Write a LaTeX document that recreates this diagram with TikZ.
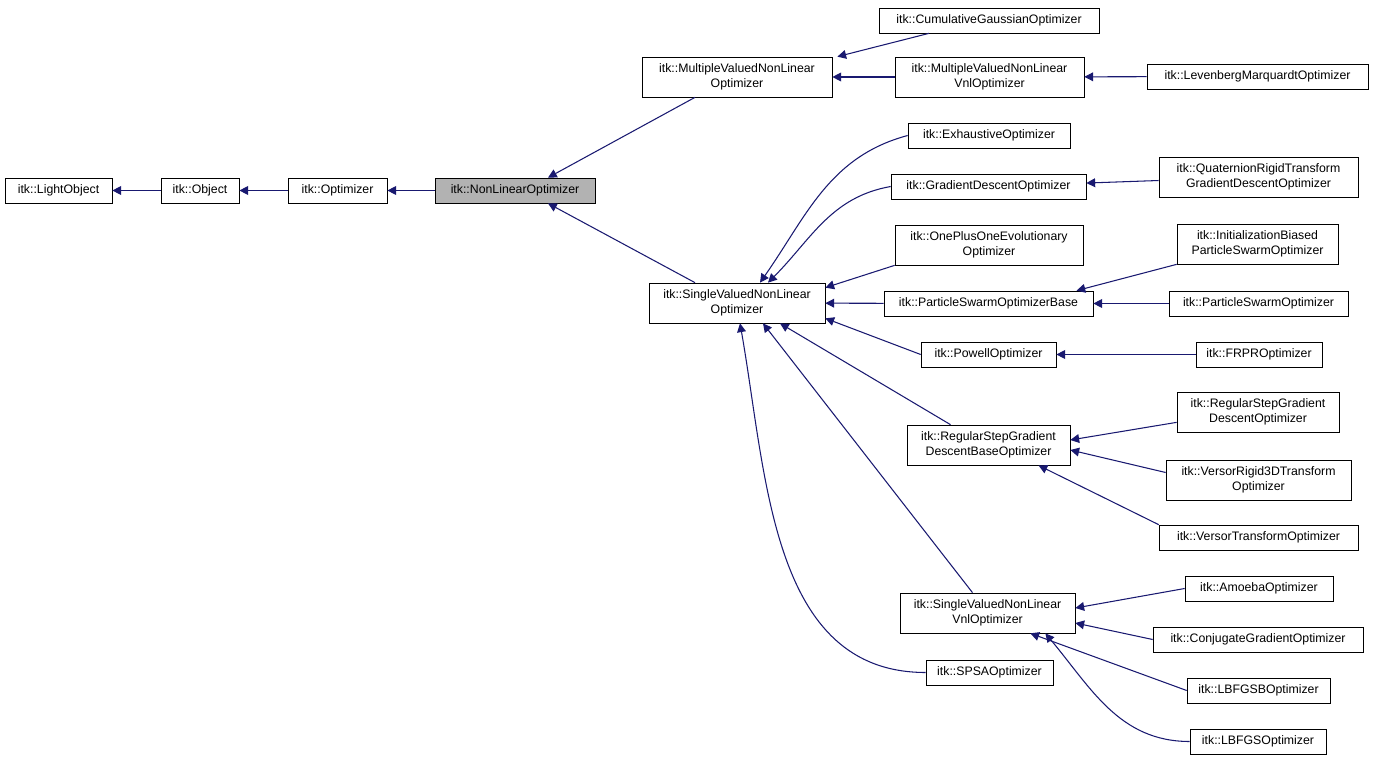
\documentclass[tikz,border=0pt]{standalone}
\usepackage{fontspec}
\setmainfont{Liberation Sans}
\usetikzlibrary{arrows.meta}
\definecolor{edgeblue}{HTML}{191970}
\begin{document}
\begin{tikzpicture}[x=0.02cm, y=-0.02cm,
    cls/.style={draw, fill=white, inner sep=1pt, minimum height=0.5cm, align=center,
        font=\fontsize{7}{8.6}\selectfont},
    two/.style={minimum height=0.8cm},
    cur/.style={cls, fill=black!30},
    inh/.style={{Triangle[length=5pt, width=5pt, fill=edgeblue]}-, draw=edgeblue, semithick}]
    \useasboundingbox (0,0) rectangle (1376,760);
    % Nodes
    \node[cls, minimum width=2.14cm] (lightobj) at (58.5,190.5) {itk::LightObject};
    \node[cls, minimum width=1.56cm] (object) at (200,190.5) {itk::Object};
    \node[cls, minimum width=1.98cm] (optim) at (337.5,190.5) {itk::Optimizer};
    \node[cur, minimum width=3.2cm] (nonlin) at (515,190.5) {itk::NonLinearOptimizer};
    \node[cls, two, minimum width=3.8cm] (mv) at (737,77) {itk::MultipleValuedNonLinear\\Optimizer};
    \node[cls, two, minimum width=3.52cm] (sv) at (737,303) {itk::SingleValuedNonLinear\\Optimizer};
    \node[cls, minimum width=4.4cm] (cumul) at (989,20.5) {itk::CumulativeGaussianOptimizer};
    \node[cls, two, minimum width=3.78cm] (mvvnl) at (989.5,77) {itk::MultipleValuedNonLinear\\VnlOptimizer};
    \node[cls, minimum width=4.42cm] (levmar) at (1257.5,76.5) {itk::LevenbergMarquardtOptimizer};
    \node[cls, minimum width=3.24cm] (exh) at (989,135.5) {itk::ExhaustiveOptimizer};
    \node[cls, minimum width=3.9cm] (graddesc) at (988.5,186.5) {itk::GradientDescentOptimizer};
    \node[cls, two, minimum width=3.98cm] (quat) at (1258.5,177) {itk::QuaternionRigidTransform\\GradientDescentOptimizer};
    \node[cls, two, minimum width=3.76cm] (oneplus) at (989,245) {itk::OnePlusOneEvolutionary\\Optimizer};
    \node[cls, two, minimum width=3.22cm] (initbias) at (1257.5,244) {itk::InitializationBiased\\ParticleSwarmOptimizer};
    \node[cls, minimum width=4.18cm] (psobase) at (988.5,303.5) {itk::ParticleSwarmOptimizerBase};
    \node[cls, minimum width=3.58cm] (pso) at (1258.5,303.5) {itk::ParticleSwarmOptimizer};
    \node[cls, minimum width=2.7cm] (powell) at (988.5,354.5) {itk::PowellOptimizer};
    \node[cls, minimum width=2.52cm] (frpr) at (1259,354.5) {itk::FRPROptimizer};
    \node[cls, two, minimum width=3.26cm] (rsgdbase) at (988.5,445) {itk::RegularStepGradient\\DescentBaseOptimizer};
    \node[cls, two, minimum width=3.24cm] (rsgd) at (1258,412) {itk::RegularStepGradient\\DescentOptimizer};
    \node[cls, two, minimum width=3.7cm] (versor3d) at (1258.5,480) {itk::VersorRigid3DTransform\\Optimizer};
    \node[cls, minimum width=3.98cm] (versor) at (1258.5,537.5) {itk::VersorTransformOptimizer};
    \node[cls, two, minimum width=3.5cm] (svvnl) at (987.5,613) {itk::SingleValuedNonLinear\\VnlOptimizer};
    \node[cls, minimum width=2.96cm] (amoeba) at (1259,588.5) {itk::AmoebaOptimizer};
    \node[cls, minimum width=4.2cm] (conjgrad) at (1258,639.5) {itk::ConjugateGradientOptimizer};
    \node[cls, minimum width=2.86cm] (lbfgsb) at (1258.5,690.5) {itk::LBFGSBOptimizer};
    \node[cls, minimum width=2.72cm] (lbfgs) at (1258,741.5) {itk::LBFGSOptimizer};
    \node[cls, minimum width=2.54cm] (spsa) at (989.5,672.5) {itk::SPSAOptimizer};

    % Arrows
    \draw[inh] (lightobj) -- (object);
    \draw[inh] (object) -- (optim);
    \draw[inh] (optim) -- (nonlin);
    \draw[inh] ([xshift=0.66cm]nonlin.north) -- ([xshift=-0.84cm]mv.south);
    \draw[inh] ([xshift=0.66cm]nonlin.south) -- ([xshift=-0.84cm]sv.north);
    \draw[inh] ([xshift=0.1cm]mv.north east) -- ([xshift=-1.2cm]cumul.south);
    \draw[inh] (mv) -- (mvvnl);
    \draw[inh] (mvvnl) -- (levmar);
    \draw[inh] ([xshift=0.46cm]sv.north) to[out=55, in=195] (exh.west);
    \draw[inh] ([xshift=0.62cm]sv.north) to[out=45, in=190] (graddesc.west);
    \draw[inh] (graddesc) -- (quat);
    \draw[inh] ([yshift=-0.1cm]sv.north east) -- (oneplus.south west);
    \draw[inh] (sv) -- (psobase);
    \draw[inh] ([yshift=0.1cm]sv.south east) -- (powell.west);
    \draw[inh] ([xshift=1.76cm]psobase.north) -- (initbias.south west);
    \draw[inh] (psobase) -- (pso);
    \draw[inh] (powell) -- (frpr);
    \draw[inh] ([xshift=0.86cm]sv.south) -- ([xshift=-0.76cm]rsgdbase.north);
    \draw[inh] ([yshift=0.1cm]rsgdbase.east) -- ([yshift=0.2cm]rsgd.south west);
    \draw[inh] ([yshift=-0.1cm]rsgdbase.east) -- ([yshift=0.15cm]versor3d.west);
    \draw[inh] ([xshift=1.0cm]rsgdbase.south) -- (versor.north west);
    \draw[inh] ([xshift=0.52cm]sv.south) -- ([xshift=-0.3cm]svvnl.north);
    \draw[inh] ([xshift=0.06cm]sv.south) to[out=-80, in=180] (spsa.west);
    \draw[inh] ([yshift=0.1cm]svvnl.east) -- (amoeba.west);
    \draw[inh] ([yshift=-0.2cm]svvnl.east) -- (conjgrad.west);
    \draw[inh] ([xshift=-0.9cm]svvnl.south east) -- (lbfgsb.west);
    \draw[inh] ([xshift=-0.6cm]svvnl.south east) to[out=-50, in=180] (lbfgs.west);
\end{tikzpicture}
\end{document}
